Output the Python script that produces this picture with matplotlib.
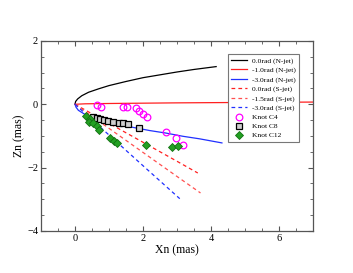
import matplotlib
matplotlib.use("Agg")
import matplotlib.pyplot as plt
from matplotlib.ticker import MultipleLocator

plt.rcParams['font.family'] = ['Liberation Serif', 'DejaVu Serif']

# N-jet model curves
n0_x = [0, 0.02, 0.08, 0.2, 0.4, 0.7, 1.0, 1.5, 2.0, 2.5, 3.0, 3.5, 4.15]
n0_z = [0, 0.09, 0.17, 0.27, 0.38, 0.49, 0.59, 0.72, 0.84, 0.93, 1.02, 1.10, 1.19]
n1_x = [0, 0.3, 1, 2, 3, 4, 5, 6, 7]
n1_z = [0, 0.015, 0.025, 0.035, 0.045, 0.052, 0.058, 0.064, 0.07]
n3_x = [0, 0.03, 0.10, 0.34, 0.73, 1.22, 1.71, 2.20, 2.68, 3.17, 3.66, 4.32]
n3_z = [0, -0.09, -0.19, -0.35, -0.51, -0.63, -0.73, -0.83, -0.91, -1.01, -1.09, -1.22]

# S-jet model curves
s0_x = [0, 1.0, 2.0, 3.0, 3.61]
s0_z = [0, -0.60, -1.20, -1.80, -2.17]
s15_x = [0, 1.0, 2.0, 3.0, 3.69]
s15_z = [0, -0.76, -1.52, -2.28, -2.80]
s3_x = [0, 1.0, 2.0, 3.08]
s3_z = [0, -0.97, -1.94, -2.98]

# Knots
c4_x = [0.64, 0.76, 1.40, 1.52, 1.79, 1.89, 2.01, 2.11, 2.68, 2.97, 3.19]
c4_z = [-0.02, -0.09, -0.09, -0.10, -0.13, -0.22, -0.32, -0.40, -0.88, -1.08, -1.29]
c8_x = [0.54, 0.64, 0.74, 0.86, 0.98, 1.13, 1.30, 1.42, 1.56, 1.89]
c8_z = [-0.40, -0.43, -0.46, -0.51, -0.54, -0.57, -0.58, -0.59, -0.61, -0.75]
c12_x = [0.33, 0.44, 0.40, 0.54, 0.64, 0.72, 1.04, 1.15, 1.24, 2.10, 2.85, 3.03]
c12_z = [-0.37, -0.47, -0.56, -0.60, -0.69, -0.80, -1.07, -1.17, -1.22, -1.30, -1.35, -1.31]

fig = plt.figure(figsize=(3.53, 2.73), dpi=100)
ax = fig.add_axes([0.116, 0.154, 0.771, 0.696])

lw = 0.9
ax.plot(n0_x, n0_z, color='black', lw=lw, label='0.0rad (N-jet)')
ax.plot(n1_x, n1_z, color='#ff2020', lw=lw, label='-1.0rad (N-jet)')
ax.plot(n3_x, n3_z, color='#2030ff', lw=lw, label='-3.0rad (N-jet)')
ax.plot(s0_x, s0_z, color='#ff2020', lw=lw, ls=(0, (3, 2.5)), label='0.0rad (S-jet)')
ax.plot(s15_x, s15_z, color='#ff5050', lw=lw, ls=(0, (3, 2.5)), label='-1.5rad (S-jet)')
ax.plot(s3_x, s3_z, color='#2030ff', lw=lw, ls=(0, (3, 2.5)), label='-3.0rad (S-jet)')

ax.plot(c4_x, c4_z, ls='none', marker='o', ms=4.8, mfc='none', mec='#ff00ff', mew=0.9, label='Knot C4')
ax.plot(c8_x, c8_z, ls='none', marker='s', ms=3.9, mfc='#d0d0d0', mec='black', mew=0.9, label='Knot C8')
ax.plot(c12_x, c12_z, ls='none', marker='D', ms=4.2, mfc='#22a022', mec='#117011', mew=0.6, label='Knot C12')

ax.set_xlim(-1, 7)
ax.set_ylim(-4, 2)
ax.xaxis.set_major_locator(MultipleLocator(2))
ax.xaxis.set_minor_locator(MultipleLocator(0.5))
ax.yaxis.set_major_locator(MultipleLocator(2))
ax.yaxis.set_minor_locator(MultipleLocator(0.5))
ax.tick_params(which='both', direction='in', top=True, right=True, colors='#555555', labelcolor='black', labelsize=7.5, pad=2)
ax.tick_params(which='major', length=3.5, width=0.8)
ax.tick_params(which='minor', length=2, width=0.6)
for s in ax.spines.values():
    s.set_color('#555555')
    s.set_linewidth(0.9)

ax.set_xlabel('Xn (mas)', fontsize=8.5, labelpad=1)
ax.set_ylabel('Zn (mas)', fontsize=8.5, labelpad=1)

leg = ax.legend(loc='upper right', bbox_to_anchor=(0.949, 0.932), fontsize=5.4, frameon=True, fancybox=False,
                edgecolor='#777777', framealpha=1, handlelength=2.2, handletextpad=0.6,
                labelspacing=0.38, borderpad=0.45, borderaxespad=0)
leg.get_frame().set_linewidth(0.8)

fig.savefig('out.png', dpi=100)
